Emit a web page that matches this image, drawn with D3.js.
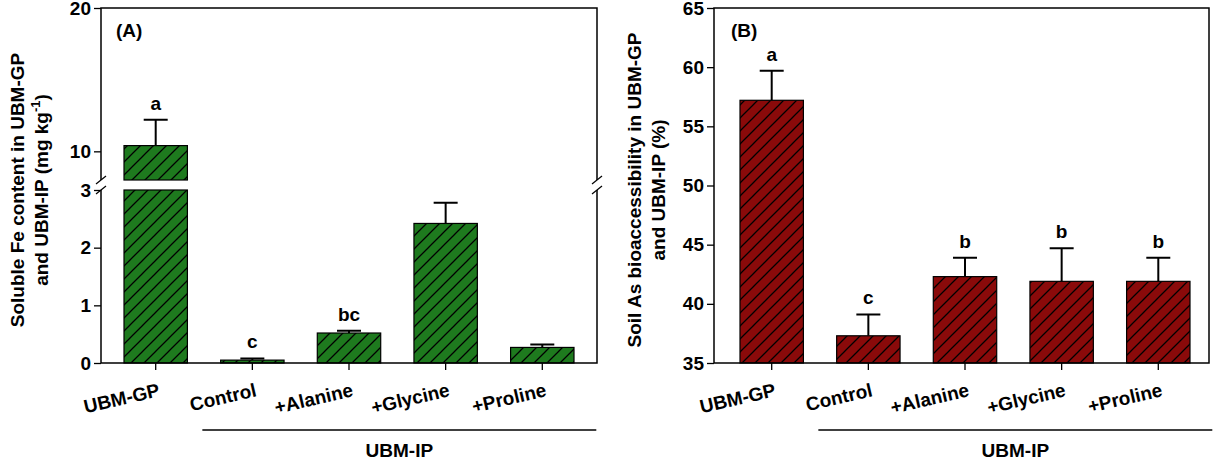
<!DOCTYPE html>
<html><head><meta charset="utf-8">
<script src="https://cdn.jsdelivr.net/npm/d3@7"></script>
<style>body{margin:0;background:#fff}text{font-family:"Liberation Sans",Arial,sans-serif;font-weight:bold}</style>
</head><body>
<svg id="c" width="1213" height="459"></svg>
<script>
var categories = ["UBM-GP", "Control", "+Alanine", "+Glycine", "+Proline"];
var feValues = [10.4, 0.05, 0.52, 2.42, 0.27];
var feErrors = [12.2, 0.08, 0.56, 2.78, 0.32];
var feLetters = ["a", "c", "bc", "", ""];
var asValues = [57.2, 37.3, 42.3, 41.9, 41.9];
var asErrors = [59.7, 39.1, 43.9, 44.7, 43.9];
var asLetters = ["a", "c", "b", "b", "b"];

var FS = 19;
var svg = d3.select("#c");
var defs = svg.append("defs");
function hatch(id, col) {
  var p = defs.append("pattern").attr("id", id).attr("patternUnits", "userSpaceOnUse")
    .attr("width", 13).attr("height", 13);
  p.append("rect").attr("width", 13).attr("height", 13).attr("fill", col);
  p.append("path").attr("d", "M-3,3 l6,-6 M0,13 l13,-13 M10,16 l6,-6")
    .attr("stroke", "#000").attr("stroke-width", 1.3);
}
hatch("hg", "#1e7a1e");
hatch("hr", "#8a0a0a");

function xLabels(g, x, y0) {
  categories.forEach(function(c) {
    var cx = x(c) + x.bandwidth() / 2;
    g.append("line").attr("x1", cx).attr("x2", cx).attr("y1", y0).attr("y2", y0 + 7).attr("stroke", "#000").attr("stroke-width", 1.3);
    g.append("text").attr("transform", "translate(" + (cx + 2) + "," + (y0 + 20) + ") rotate(-13)")
      .attr("text-anchor", "end").attr("dy", "0.7em").attr("font-size", FS).text(c);
  });
}
function group(g, x, y0) {
  var a = x("Control") + x.bandwidth() / 2 - 50, b = x("+Proline") + x.bandwidth() / 2 + 54;
  g.append("line").attr("x1", a).attr("x2", b).attr("y1", y0 + 67).attr("y2", y0 + 67).attr("stroke", "#000").attr("stroke-width", 1.5);
  g.append("text").attr("x", (a + b) / 2).attr("y", y0 + 94).attr("text-anchor", "middle").attr("font-size", FS).text("UBM-IP");
}
function bar(g, x, c, yTop, yBot, fill) {
  g.append("rect").attr("x", x(c)).attr("width", x.bandwidth()).attr("y", yTop).attr("height", yBot - yTop)
    .attr("fill", "url(#" + fill + ")").attr("stroke", "#000").attr("stroke-width", 1.2);
}
function err(g, x, c, yv, ye) {
  var cx = x(c) + x.bandwidth() / 2;
  g.append("path").attr("d", "M" + cx + "," + yv + "V" + ye + "M" + (cx - 12) + "," + ye + "H" + (cx + 12))
    .attr("stroke", "#000").attr("stroke-width", 2).attr("fill", "none");
}
function letter(g, x, c, ye, t) {
  g.append("text").attr("x", x(c) + x.bandwidth() / 2).attr("y", ye - 10).attr("text-anchor", "middle")
    .attr("font-size", FS).text(t);
}

// Panel A (broken axis)
var gA = svg.append("g");
var L = 101, R = 597, T = 8, B = 363;
var xA = d3.scaleBand().domain(categories).range([124, 574]).paddingInner(0.344).paddingOuter(0);
var yLo = d3.scaleLinear().domain([0, 3]).range([B, 190]);
var yHi = d3.scaleLinear().domain([8, 20]).range([180, T]);
categories.forEach(function(c, i) {
  var v = feValues[i], e = feErrors[i];
  if (v > 3) {
    bar(gA, xA, c, yHi(v), yHi(8), "hg");
    bar(gA, xA, c, yLo(3), yLo(0), "hg");
    err(gA, xA, c, yHi(v), yHi(e));
    letter(gA, xA, c, yHi(e), feLetters[i]);
  } else {
    bar(gA, xA, c, yLo(v), yLo(0), "hg");
    err(gA, xA, c, yLo(v), yLo(e));
    if (feLetters[i]) letter(gA, xA, c, yLo(e), feLetters[i]);
  }
});
gA.append("g").attr("transform", "translate(" + L + ",0)")
  .call(d3.axisLeft(yLo).tickValues([0, 1, 2, 3]).tickFormat(d3.format("d")).tickSize(7).tickSizeOuter(0));
gA.append("g").attr("transform", "translate(" + L + ",0)")
  .call(d3.axisLeft(yHi).tickValues([10, 20]).tickFormat(d3.format("d")).tickSize(7).tickSizeOuter(0));
gA.selectAll(".domain").remove();
gA.append("path").attr("d", "M" + L + "," + B + "V190M" + L + ",180V" + T + "H" + R + "V180M" + R + ",190V" + B + "H" + L)
  .attr("stroke", "#000").attr("stroke-width", 1.5).attr("fill", "none");
[L, R].forEach(function(px) {
  [180, 190].forEach(function(py) {
    gA.append("line").attr("x1", px - 5).attr("x2", px + 5).attr("y1", py + 4).attr("y2", py - 4).attr("stroke", "#000").attr("stroke-width", 1.3);
  });
});
xLabels(gA, xA, B);
group(gA, xA, B);
gA.append("text").attr("x", 116).attr("y", 37).attr("font-size", FS).text("(A)");
var ylA = gA.append("text").attr("transform", "translate(24,190) rotate(-90)").attr("text-anchor", "middle").attr("font-size", FS);
ylA.append("tspan").attr("x", 0).attr("dy", 0).text("Soluble Fe content in UBM-GP");
ylA.append("tspan").attr("x", 0).attr("dy", 24).text("and UBM-IP (mg kg");
ylA.append("tspan").attr("dy", -8).attr("font-size", 13).text("-1");
ylA.append("tspan").attr("dy", 8).text(")");

// Panel B
var gB = svg.append("g");
var L2 = 714, R2 = 1209;
var xB = d3.scaleBand().domain(categories).range([740, 1190]).paddingInner(0.344).paddingOuter(0);
var yB = d3.scaleLinear().domain([35, 65]).range([B, T]);
categories.forEach(function(c, i) {
  bar(gB, xB, c, yB(asValues[i]), yB(35), "hr");
  err(gB, xB, c, yB(asValues[i]), yB(asErrors[i]));
  letter(gB, xB, c, yB(asErrors[i]), asLetters[i]);
});
gB.append("g").attr("transform", "translate(" + L2 + ",0)")
  .call(d3.axisLeft(yB).tickValues(d3.range(35, 66, 5)).tickSize(7).tickSizeOuter(0))
  .select(".domain").remove();
gB.append("rect").attr("x", L2).attr("y", T).attr("width", R2 - L2).attr("height", B - T)
  .attr("fill", "none").attr("stroke", "#000").attr("stroke-width", 1.5);
xLabels(gB, xB, B);
group(gB, xB, B);
gB.append("text").attr("x", 731).attr("y", 37).attr("font-size", FS).text("(B)");
var ylB = gB.append("text").attr("transform", "translate(641,190) rotate(-90)").attr("text-anchor", "middle").attr("font-size", FS);
ylB.append("tspan").attr("x", 0).attr("dy", 0).text("Soil As bioaccessibility in UBM-GP");
ylB.append("tspan").attr("x", 0).attr("dy", 24).text("and UBM-IP (%)");

svg.selectAll(".tick text").attr("font-size", FS).attr("fill", "#000").attr("font-family", "Liberation Sans, Arial, sans-serif").attr("font-weight", "bold");
svg.selectAll(".tick line").attr("stroke-width", 1.3);
</script>
</body></html>
